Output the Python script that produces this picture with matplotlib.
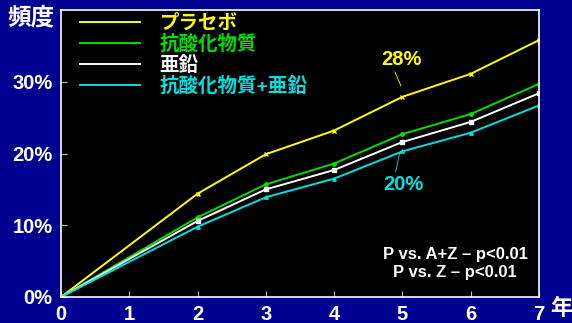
import numpy as np
import matplotlib
matplotlib.use('Agg')
import matplotlib.pyplot as plt
from matplotlib.lines import Line2D

plt.rcParams['font.family'] = ['Liberation Sans', 'Noto Sans CJK JP', 'DejaVu Sans']
plt.rcParams['font.weight'] = 'bold'

years = [0, 2, 3, 4, 5, 6, 7]
placebo = [0, 14.4, 19.9, 23.2, 27.9, 31.1, 35.8]
antiox = [0, 11.1, 15.7, 18.6, 22.7, 25.5, 29.7]
zinc = [0, 10.6, 15.0, 17.7, 21.6, 24.4, 28.4]
antiox_zinc = [0, 9.8, 13.9, 16.5, 20.3, 22.9, 26.7]
labels = ['プラセボ', '抗酸化物質', '亜鉛', '抗酸化物質+亜鉛']
colors = ['#ffff00', '#00dd00', '#ffffff', '#00e0e0']
markers = ['x', 'o', 's', '^']
yticks = [0, 10, 20, 30]
xticks = [0, 1, 2, 3, 4, 5, 6, 7]

bg = '#000090'
fig = plt.figure(figsize=(5.72, 3.23), dpi=100, facecolor=bg)
ax = fig.add_axes([61 / 572, 26 / 323, 478 / 572, 287 / 323], facecolor='black')

series = [placebo, antiox, zinc, antiox_zinc]
handles = []
for vals, c, m, lab in zip(series, colors, markers, labels):
    ax.plot(years, vals, color=c, lw=1.4, marker=m, ms=2.5, mew=1)
    handles.append(Line2D([], [], color=c, lw=1.4, label=lab))

ax.set_xlim(0, 7)
ax.set_ylim(0, 40)
ax.set_xticks(xticks)
ax.set_yticks(yticks)
ax.set_yticklabels(['%d%%' % v for v in yticks])
ax.tick_params(direction='in', colors='#bbbbbb', length=4, labelcolor='white',
               labelsize=14.5, pad=6)
for s in ax.spines.values():
    s.set_color('white')
    s.set_linewidth(1.2)

leg = ax.legend(handles=handles, loc='upper left', bbox_to_anchor=(0.023, 1.010),
                borderaxespad=0, frameon=False, handlelength=3.1, handletextpad=1.0,
                labelspacing=0.1, fontsize=14)
for t, c in zip(leg.get_texts(), colors):
    t.set_color(c)
    t.set_fontweight('bold')

ax.annotate('28%', xy=(4.98, 29.4), xytext=(4.99, 33.1), color='#ffff00',
            fontsize=14.5, fontweight='bold', ha='center', va='center',
            arrowprops=dict(arrowstyle='-', color='#ffff00', lw=0.6,
                            shrinkA=0, shrinkB=0, relpos=(0.3, 0.0)))
ax.annotate('20%', xy=(4.96, 20.1), xytext=(5.01, 15.7), color='#00e0e0',
            fontsize=14.5, fontweight='bold', ha='center', va='center',
            arrowprops=dict(arrowstyle='-', color='#00e0e0', lw=0.6,
                            shrinkA=0, shrinkB=0, relpos=(0.3, 1.0)))

ax.text(5.77, 4.6, 'P vs. A+Z – p<0.01\nP vs. Z – p<0.01', color='white',
        fontsize=12, fontweight='bold', ha='center', va='center', linespacing=1.25)

fig.text(31 / 572, 1 - 18 / 323, '頻度', color='white', fontsize=17,
         fontweight='bold', ha='center', va='center')
fig.text(561 / 572, 1 - 309 / 323, '年', color='white', fontsize=16,
         fontweight='bold', ha='center', va='center')

plt.savefig('out.png', dpi=100, facecolor=bg)
